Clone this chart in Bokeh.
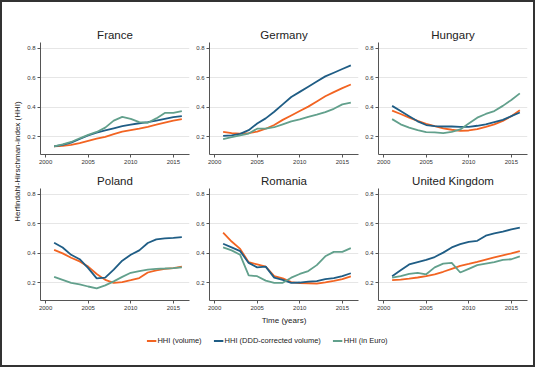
from bokeh.plotting import figure
from bokeh.layouts import row, column
from bokeh.models import FixedTicker, Label, Legend, LegendItem, Range1d
from bokeh.embed import file_html
from bokeh.resources import INLINE
import math

years = list(range(2001, 2017))

france_volume = [0.135, 0.138, 0.145, 0.157, 0.172, 0.187, 0.200, 0.218, 0.235, 0.245, 0.255, 0.268, 0.282, 0.297, 0.310, 0.320]
france_ddd    = [0.135, 0.145, 0.160, 0.185, 0.210, 0.228, 0.243, 0.258, 0.272, 0.282, 0.292, 0.300, 0.310, 0.322, 0.333, 0.340]
france_euro   = [0.135, 0.148, 0.165, 0.190, 0.213, 0.233, 0.262, 0.310, 0.335, 0.322, 0.300, 0.295, 0.325, 0.362, 0.362, 0.375]

germany_volume = [0.233, 0.225, 0.222, 0.225, 0.235, 0.255, 0.280, 0.315, 0.345, 0.375, 0.405, 0.440, 0.475, 0.503, 0.530, 0.555]
germany_ddd    = [0.207, 0.210, 0.220, 0.245, 0.290, 0.325, 0.370, 0.420, 0.470, 0.505, 0.540, 0.575, 0.610, 0.635, 0.660, 0.685]
germany_euro   = [0.185, 0.198, 0.210, 0.222, 0.255, 0.255, 0.265, 0.285, 0.305, 0.318, 0.335, 0.350, 0.368, 0.390, 0.420, 0.432]

hungary_volume = [0.378, 0.355, 0.330, 0.308, 0.288, 0.272, 0.258, 0.248, 0.240, 0.243, 0.252, 0.268, 0.285, 0.308, 0.340, 0.380]
hungary_ddd    = [0.410, 0.375, 0.340, 0.305, 0.280, 0.272, 0.270, 0.270, 0.268, 0.268, 0.275, 0.285, 0.300, 0.315, 0.340, 0.365]
hungary_euro   = [0.320, 0.285, 0.262, 0.245, 0.232, 0.230, 0.225, 0.233, 0.250, 0.290, 0.330, 0.355, 0.375, 0.410, 0.450, 0.495]

poland_volume = [0.424, 0.400, 0.370, 0.345, 0.310, 0.260, 0.220, 0.200, 0.205, 0.218, 0.232, 0.270, 0.285, 0.295, 0.300, 0.310]
poland_ddd    = [0.472, 0.440, 0.390, 0.360, 0.300, 0.230, 0.235, 0.290, 0.350, 0.390, 0.420, 0.470, 0.495, 0.502, 0.505, 0.510]
poland_euro   = [0.240, 0.220, 0.200, 0.190, 0.175, 0.162, 0.183, 0.210, 0.240, 0.268, 0.280, 0.290, 0.295, 0.297, 0.300, 0.305]

romania_volume = [0.540, 0.480, 0.430, 0.340, 0.325, 0.310, 0.245, 0.230, 0.205, 0.198, 0.197, 0.195, 0.203, 0.213, 0.225, 0.243]
romania_ddd    = [0.465, 0.440, 0.415, 0.335, 0.305, 0.310, 0.235, 0.220, 0.200, 0.202, 0.208, 0.212, 0.225, 0.232, 0.245, 0.265]
romania_euro   = [0.440, 0.420, 0.390, 0.250, 0.245, 0.215, 0.200, 0.200, 0.235, 0.260, 0.280, 0.320, 0.380, 0.410, 0.410, 0.435]

uk_volume = [0.218, 0.222, 0.228, 0.236, 0.245, 0.258, 0.275, 0.295, 0.315, 0.328, 0.342, 0.357, 0.372, 0.386, 0.400, 0.415]
uk_ddd    = [0.245, 0.285, 0.325, 0.340, 0.355, 0.375, 0.405, 0.440, 0.462, 0.478, 0.485, 0.520, 0.535, 0.548, 0.562, 0.575]
uk_euro   = [0.235, 0.245, 0.260, 0.268, 0.258, 0.305, 0.330, 0.335, 0.270, 0.295, 0.320, 0.330, 0.340, 0.355, 0.360, 0.380]

x_ticks = [2000, 2005, 2010, 2015]
y_ticks = [0.2, 0.4, 0.6, 0.8]
series_labels = ["HHI (volume)", "HHI (DDD-corrected volume)", "HHI (in Euro)"]
series_colors = ["#f26422", "#1f5d85", "#62a08c"]

FONT = "Liberation Sans"


def panel(name, vol, ddd, eur, top, bottom, left=19, right=1, xlabel=None):
    p = figure(frame_width=149, frame_height=112, output_backend="svg",
               toolbar_location=None, x_range=Range1d(1999.4, 2016.9),
               y_range=Range1d(0.08, 0.84),
               min_border_left=left, min_border_right=right,
               min_border_top=top, min_border_bottom=bottom)
    p.title.text = name
    p.title.align = "center"
    p.title.text_font = FONT
    p.title.text_font_size = "11.5px"
    p.title.text_font_style = "normal"
    p.title.text_color = "#222222"
    p.title.standoff = 3
    p.outline_line_color = None
    p.xgrid.visible = False
    p.ygrid.grid_line_color = "#e6e6e6"
    p.ygrid.grid_line_width = 1
    p.xaxis.ticker = FixedTicker(ticks=x_ticks)
    p.yaxis.ticker = FixedTicker(ticks=y_ticks)
    p.xaxis.minor_tick_line_color = None
    p.yaxis.minor_tick_line_color = None
    for ax in (p.xaxis, p.yaxis):
        ax.axis_line_color = "#555555"
        ax.major_tick_line_color = "#555555"
        ax.major_tick_out = 3
        ax.major_tick_in = 0
        ax.major_label_standoff = 2
        ax.major_label_text_font = FONT
        ax.major_label_text_font_size = "6px"
        ax.major_label_text_color = "#333333"
    if xlabel:
        p.xaxis.axis_label = xlabel
        p.xaxis.axis_label_text_font = FONT
        p.xaxis.axis_label_text_font_size = "8px"
        p.xaxis.axis_label_text_font_style = "normal"
        p.xaxis.axis_label_text_color = "#222222"
        p.xaxis.axis_label_standoff = 3
    for vals, col in zip((vol, ddd, eur), series_colors):
        p.line(years, vals, line_color=col, line_width=1.8)
    return p


f1 = panel("France", france_volume, france_ddd, france_euro, 40, 16, left=15)
f2 = panel("Germany", germany_volume, germany_ddd, germany_euro, 40, 16)
f3 = panel("Hungary", hungary_volume, hungary_ddd, hungary_euro, 40, 16, right=6)
f4 = panel("Poland", poland_volume, poland_ddd, poland_euro, 18, 16, left=15)
f5 = panel("Romania", romania_volume, romania_ddd, romania_euro, 18, 30, xlabel="Time (years)")
f6 = panel("United Kingdom", uk_volume, uk_ddd, uk_euro, 18, 16, right=6)

# y-axis title column
lab = figure(width=22, height=328, output_backend="svg", toolbar_location=None,
             x_range=Range1d(0, 1), y_range=Range1d(0, 1),
             x_axis_location=None, y_axis_location=None,
             min_border=0)
lab.outline_line_color = None
lab.grid.visible = False
lab.add_layout(Label(x=0.68, y=0.515, text="Herfindahl-Hirschman-index (HHI)",
                     angle=math.pi / 2, text_align="center", text_baseline="middle",
                     text_font=FONT, text_font_size="8px", text_color="#222222"))

# legend strip
leg = figure(width=530, height=35, output_backend="svg", toolbar_location=None,
             x_range=Range1d(0, 1), y_range=Range1d(0, 1),
             x_axis_location=None, y_axis_location=None, min_border=0)
leg.outline_line_color = None
leg.grid.visible = False
items = []
for lbl, col in zip(series_labels, series_colors):
    r = leg.line([-2, -1], [-2, -1], line_color=col, line_width=2)
    items.append(LegendItem(label=lbl, renderers=[r]))
legend = Legend(items=items, orientation="horizontal", location="top_center",
                margin=6, padding=0, spacing=12, glyph_width=10, glyph_height=9,
                label_standoff=1, label_text_font=FONT, label_text_font_size="7.5px",
                label_text_color="#222222", label_height=9, border_line_color=None,
                background_fill_alpha=0)
leg.add_layout(legend, "center")

grid = column(row(f1, f2, f3), row(f4, f5, f6), spacing=0)
layout = column(row(lab, grid, spacing=0), leg, spacing=0,
                styles={"border": "2px solid #333333", "background-color": "white"})

open("out.html", "w").write(file_html(layout, INLINE))
